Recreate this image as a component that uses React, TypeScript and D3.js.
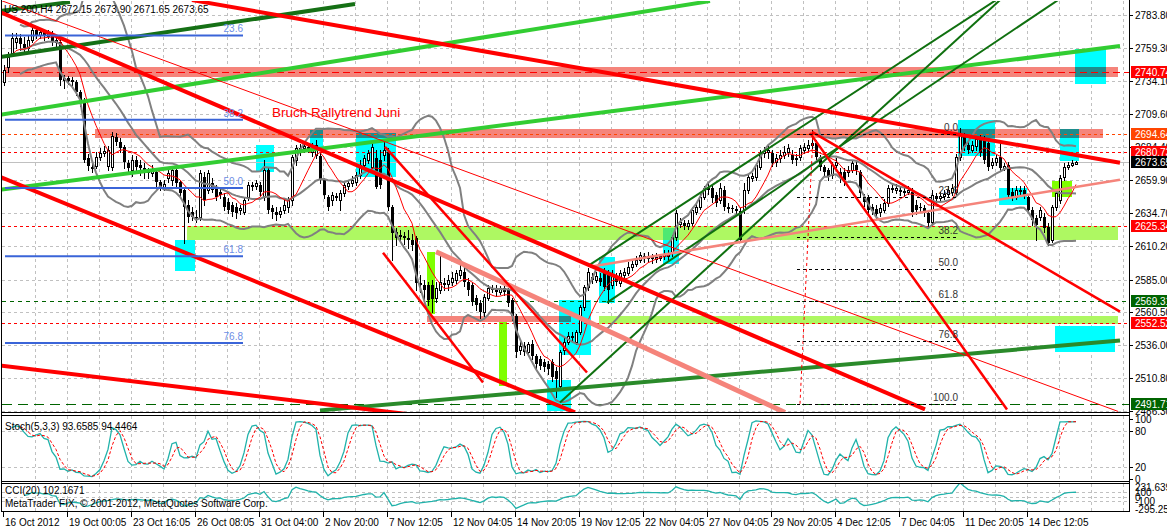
import React, { useMemo } from 'react';
import * as d3 from 'd3';

const headerText = 'US 200,H4  2672.15 2673.90 2671.65 2673.65';
const stochText = 'Stoch(5,3,3) 93.6585 94.4464';
const cciText = 'CCI(20) 102.1671';
const copyrightText = 'MetaTrader FIX, \u00a9 2001-2012, MetaQuotes Software Corp.';
const annotationText = 'Bruch Rallytrend Juni';
const annotationPos = [67, 2707.3];

const timeLabels = ['16 Oct 2012', '19 Oct 00:05', '23 Oct 16:05', '26 Oct 08:05', '31 Oct 04:00', '2 Nov 20:00', '7 Nov 12:05', '12 Nov 04:05', '14 Nov 20:05', '19 Nov 12:05', '22 Nov 04:05', '27 Nov 04:05', '29 Nov 20:05', '4 Dec 12:05', '7 Dec 04:05', '11 Dec 20:05', '14 Dec 12:05'];
const priceTicks = [2783.8, 2759.3, 2734.1, 2709.6, 2684.4, 2659.9, 2634.7, 2610.2, 2585.0, 2560.5, 2536.0, 2510.8, 2486.3];
const stochTicks = [100, 80, 20, 0];
const cciTicks = ['231.639', '100', '0', '-100', '-295.253'];

// [open, high, low, close]
const ohlc = [
[2733.5,2746.3,2731.3,2742.5],[2744.8,2756,2741,2752.3],[2755.3,2770.3,2753,2766.5],[2763.5,2770.3,2759,2766.5],
[2766.5,2769.5,2757.5,2762],[2762,2767.3,2756,2759],[2759,2768,2756.8,2765],[2765,2775.5,2763.5,2772.5],
[2772.5,2774.8,2766.5,2768.8],[2768.8,2773.3,2766.5,2771],[2771,2772.5,2765,2768],[2768,2772.5,2766.5,2770.3],
[2770.3,2771.8,2761.3,2763.5],[2763.5,2768,2759.8,2765],[2763.5,2765,2731.3,2735],[2735,2738.8,2729,2736.5],
[2736.5,2738,2732,2734.3],[2734.3,2737.3,2731.3,2735],[2733.5,2735,2723.8,2726],[2726,2727.5,2715.5,2718.5],
[2720,2721.5,2673.5,2675],[2676.5,2679.5,2667.5,2670.5],[2669,2675,2666,2669.8],[2670.5,2681,2669,2677.3],
[2677.3,2684,2675,2680.3],[2680.3,2685.5,2678,2681.8],[2670.5,2685.5,2667.5,2682.5],[2669.8,2696,2667.5,2693],
[2692.3,2695.3,2686.3,2688.5],[2688.5,2691.5,2681,2684],[2684.8,2686.3,2669,2673.5],[2672.8,2675,2666,2669],
[2667.5,2678.8,2663,2675],[2675,2678,2667.5,2669.8],[2671.3,2675,2663.8,2669],[2669,2672.8,2661.5,2666],
[2666,2669,2661.5,2665.3],[2665.3,2671.3,2663,2668.3],[2666,2669,2655.5,2658.5],[2658.5,2660,2652.5,2654.8],
[2654.8,2660,2652.5,2657],[2661.5,2667.5,2658.5,2665.3],[2660,2669.8,2656.3,2667.5],[2667.5,2670.5,2655.5,2657.8],
[2658.5,2660,2648,2650.3],[2652.5,2654,2612.8,2639.8],[2641.3,2645,2628.5,2632.3],[2636,2639.8,2630,2632.3],
[2632.3,2637.5,2628.5,2631.5],[2632.3,2667.5,2630,2665.3],[2662.3,2666,2641.3,2645],[2652.5,2667.5,2650.3,2665.3],
[2657.8,2661.5,2651,2652.5],[2654,2656.3,2645,2647.3],[2651,2654,2646.5,2648.8],[2647.3,2650.3,2637.5,2639.8],
[2643.5,2646.5,2635.3,2637.5],[2641.3,2643.5,2633,2636],[2639.8,2642.8,2631.5,2635.3],[2637.5,2641.3,2634.5,2639],
[2636,2647.3,2634.5,2645],[2647.3,2658.5,2645,2656.3],[2656.3,2658.5,2652.5,2654.8],[2655.5,2660,2653.3,2657.8],
[2656.3,2658.5,2648.8,2651],[2647.3,2675,2645,2667.5],[2667.5,2669,2635.3,2637.5],[2639,2641.3,2631.5,2636],
[2636,2639.8,2630,2633.8],[2634.5,2639.8,2632.3,2636.8],[2637.5,2645,2635.3,2641.3],[2639.8,2647.3,2636,2645],
[2645,2678.8,2641.3,2677.3],[2675,2686.3,2671.3,2684],[2682.5,2687,2678.8,2684],[2684,2688.5,2681,2685.5],
[2684.8,2687.8,2681,2683.3],[2681,2687.8,2678,2684],[2678.8,2690,2676.5,2686.3],[2678,2680.3,2657.8,2660],
[2660,2661.5,2646.5,2648.8],[2647.3,2648.8,2637.5,2639.8],[2645,2651,2641.3,2648.8],[2648,2650.3,2645,2646.5],
[2645,2652.5,2637.5,2650.3],[2650.3,2658.5,2648,2656.3],[2655.5,2660,2653.3,2657.8],[2657.8,2663,2655.5,2660],
[2658.5,2666,2656.3,2663.8],[2663.8,2675,2661.5,2671.3],[2671.3,2678.8,2669,2676.5],[2675,2682.5,2672.8,2680.3],
[2669.8,2690,2667.5,2684.8],[2676.5,2682.5,2654,2654.8],[2675,2682.5,2654,2656.3],[2678.8,2690,2675,2682.5],
[2681,2684,2637.5,2639.8],[2639.8,2641.3,2600,2620.3],[2621,2624,2611.3,2616.5],[2618.8,2622.5,2613.5,2617.3],
[2618,2621,2612,2616.5],[2616.5,2622.5,2609,2615],[2615,2619.5,2607.5,2611.3],[2616.5,2618,2577.5,2582.8],
[2582.8,2588.8,2576,2581.3],[2581.3,2585,2570,2577.5],[2581.3,2583.5,2566.3,2570],[2581.3,2585,2561,2570.8],
[2571.5,2583.5,2568.5,2579],[2577.5,2603.8,2575.3,2583.5],[2582.8,2586.5,2577.5,2581.3],[2582,2588.8,2577.5,2585],
[2583.5,2591,2581.3,2586.5],[2585,2592.5,2582.8,2590.3],[2588.8,2596.3,2586.5,2592.5],[2591,2594,2580.5,2583.5],
[2583.5,2586.5,2573.8,2577.5],[2581.3,2583.5,2566.3,2568.5],[2571.5,2573.8,2562.5,2566.3],[2567.8,2570,2556.5,2560.3],
[2561,2574.5,2558,2572.3],[2571.5,2581.3,2570,2579],[2578.3,2581.3,2576,2579],[2579,2581.3,2573,2576],
[2576,2580.5,2574.5,2579],[2579,2580.5,2573.8,2576],[2577.5,2579,2565.5,2567.8],[2570,2571.5,2555,2557.3],
[2557.3,2558.8,2526.5,2530.3],[2532.5,2540,2528.8,2534.8],[2534.8,2537.8,2528,2531],[2531,2537.8,2528,2536.3],
[2536.3,2540,2525,2527.3],[2527.3,2528.8,2517.5,2521.3],[2525,2527.3,2517.5,2519.8],[2522.8,2525,2516,2519],
[2521.3,2523.5,2513.8,2517.5],[2522.8,2525,2508.5,2511.5],[2516,2519,2496.5,2510],[2504.8,2532.5,2502.5,2530.3],
[2532.5,2541.5,2528.8,2537.8],[2538.5,2545.3,2536.3,2542.3],[2542.3,2545.3,2540,2543],[2538.5,2547.5,2536.3,2545.3],
[2545.3,2566.3,2543.8,2564.8],[2564.8,2581.3,2562.5,2579.8],[2579.8,2594,2577.5,2591],[2587.3,2590.3,2582.8,2585],
[2585,2591,2583.5,2588],[2586.5,2590.3,2581.3,2583.5],[2591,2594,2577.5,2579.8],[2588.8,2592.5,2567.8,2577.5],
[2581.3,2592.5,2579,2588.8],[2586.5,2590.3,2581.3,2583.5],[2582.8,2592.5,2580.5,2590.3],[2588.8,2594,2586.5,2591],
[2590.3,2598.5,2588.8,2594.8],[2594.8,2600,2592.5,2597],[2597,2603,2595.5,2600],[2600,2606,2598.5,2603.8],
[2603,2605.3,2598.5,2601.5],[2601.5,2606,2598.5,2603],[2602.3,2604.5,2597.8,2600.8],[2600.8,2605.3,2598.5,2602.3],
[2601.5,2604.5,2600,2603],[2603,2607.5,2600.8,2604.5],[2603,2607.5,2600,2605.3],[2605.3,2618.8,2603,2617.3],
[2617.3,2637.5,2615,2635.3],[2627,2631.5,2624.8,2628.5],[2627.8,2630,2623.3,2625.5],[2625.5,2630,2623.3,2627.8],
[2627.8,2639.8,2626.3,2637.5],[2636,2642.8,2634.5,2639.8],[2639.8,2649.5,2638.3,2647.3],[2647.3,2655.5,2645.8,2654],
[2654,2658.5,2649.5,2652.5],[2654,2656.3,2643.5,2646.5],[2648.8,2651,2640.5,2642.8],[2645,2657.8,2642.8,2654],
[2652.5,2655.5,2637.5,2639.8],[2639.8,2642.8,2636,2638.3],[2639,2641.3,2636,2638.3],[2638.3,2640.5,2633.8,2636.8],
[2636.8,2639,2613.5,2615],[2637.5,2657.8,2635.3,2652.5],[2652.5,2663.8,2650.3,2662.3],[2661.5,2665.3,2659.3,2663],
[2662.3,2672.8,2660,2671.3],[2669.8,2682.5,2668.3,2680.3],[2680.3,2684.8,2677.3,2681.8],[2681,2686.3,2676.5,2682.5],
[2680.3,2682.5,2670.5,2672.8],[2673.5,2679.5,2670.5,2676.5],[2676.5,2682.5,2673.5,2678.8],[2678.8,2685.5,2676.5,2681],
[2681,2687,2678,2684],[2678.8,2682.5,2672.8,2675],[2676.5,2679.5,2671.3,2675],[2677.3,2686.3,2675,2684],
[2682.5,2687.8,2680.3,2684.8],[2684,2690,2682.5,2686.3],[2686.3,2697.5,2684,2687.8],[2687.8,2690,2675,2677.3],
[2677.3,2678.8,2667.5,2669.8],[2669.8,2671.3,2663.8,2666],[2667.5,2669,2660,2662.3],[2663.8,2673.5,2661.5,2671.3],
[2671.3,2676.5,2669.8,2673.5],[2666,2669,2658.5,2661.5],[2666,2669,2656.3,2660],[2666,2670.5,2663,2667.5],
[2667.5,2675,2666,2672.8],[2671.3,2675,2664.5,2667.5],[2666,2667.5,2647.3,2650.3],[2647.3,2649.5,2640.5,2643.5],
[2647.3,2648.8,2634.5,2637.5],[2639.8,2642,2634.5,2636.8],[2638.3,2641.3,2631.5,2634.5],[2636,2642,2633,2639],
[2637.5,2645.8,2636,2642.8],[2642.8,2656.3,2640.5,2654],[2654,2657,2651,2652.5],[2652.5,2657,2650.3,2654],
[2652.5,2655.5,2648.8,2651],[2651.8,2654,2648,2650.3],[2651,2655.5,2649.5,2652.5],[2651,2654,2633,2636],
[2641.3,2645,2634.5,2637.5],[2639.8,2642.8,2636,2639],[2639,2641.3,2633,2635.3],[2635.3,2637.5,2625.5,2627.8],
[2628.5,2652.5,2626.3,2648.8],[2648,2650.3,2643.5,2645.8],[2646.5,2651,2644.3,2648],[2648,2652.5,2645.8,2649.5],
[2649.5,2655.5,2647.3,2652.5],[2651,2657,2648.8,2654],[2651,2679.5,2648.8,2677.3],[2677.3,2699,2675,2695.3],
[2692.3,2695.3,2682.5,2684.8],[2686.3,2690,2680.3,2682.5],[2682.5,2689.3,2681,2686.3],[2685.5,2693,2682.5,2690.8],
[2691.5,2693.8,2678,2680.3],[2690,2693,2672.8,2675],[2687.8,2690,2667.5,2669.8],[2671.3,2676.5,2669,2673.5],
[2673.5,2678.8,2671.3,2676.5],[2677.3,2687.8,2667.5,2669],[2669,2672.8,2667.5,2670.5],[2671.3,2673.5,2646.5,2648.8],
[2651,2654,2645,2647.3],[2647.3,2655.5,2645.8,2652.5],[2652.5,2655.5,2648.8,2651],[2652.5,2655.5,2646.5,2648.8],
[2647.3,2648.8,2635.3,2637.5],[2637.5,2639.8,2626.3,2630],[2631.5,2633.8,2615,2626.3],[2632.3,2639.8,2630,2637.5],
[2632.3,2635.3,2621,2624],[2624.8,2627.8,2611.3,2612.8],[2615,2641.3,2613.5,2639.8],[2639.8,2652.5,2637.5,2650.3],
[2645,2663.8,2642.8,2661.5],[2662.3,2672.8,2660,2669.8],[2669.8,2673.5,2668.3,2671.3],[2671.3,2675,2670.5,2672.8],
[2672.15,2673.9,2671.65,2673.65],
];

// horizontal levels (prices) and bid
const levelPrices = [2740.74, 2694.64, 2680.73, 2625.34, 2569.31, 2552.52, 2491.71];
const bidPrice = 2673.65;

// zones: [barFrom, barTo, priceTop, priceBottom]
const salmonZones = [[0.25, 278.5, 2744.5, 2737.3], [22.75, 274.75, 2698.2, 2691.2], [105.75, 141.75, 2558, 2553.5]];
const limeZones = [[45.75, 278.5, 2625.3, 2615], [148.75, 278.5, 2557.5, 2551.5]];
const cyanZones = [
  [267.75, 275.5, 2758.2, 2732], [42.75, 47.75, 2615, 2591.8], [63, 67.5, 2686.3, 2666], [76.5, 79.75, 2697.5, 2681.8],
  [88, 98, 2695.3, 2662.3], [135.75, 141.75, 2509.3, 2486], [138.75, 146.75, 2570, 2528], [148.75, 152.75, 2602.3, 2567.8],
  [164.75, 168.75, 2624, 2597], [238.5, 247.75, 2705, 2678], [248.75, 255.75, 2654, 2641.3], [264, 268.75, 2698.3, 2674.3],
  [262.75, 277.75, 2550.5, 2530.3],
];
const chartreuseZones = [[105.75, 107.75, 2606, 2558.8], [123.75, 125.75, 2553.5, 2504.8], [262, 267, 2659.3, 2647.3]];

// trend lines: [bar1, price1, bar2, price2]
const redThick = [[-1, 2786, 230.25, 2487.5], [47, 2795, 279, 2672.75], [-1, 2662.25, 142.75, 2485.25], [-1, 2520.5, 101.5, 2483.75]];
const redMedium = [[95.25, 2684.75, 145.75, 2515.25], [94.75, 2605.25, 119.75, 2507.75], [202, 2696, 279, 2561], [201.5, 2695.25, 250.75, 2487.5]];
const redThin = [[-1, 2795, 278.5, 2486]];
const darkGreenThick = [[-1, 2752.25, 87.75, 2792], [-1, 2786.75, 16.5, 2793.5]];
const forestGreenThick = [[79, 2486.75, 279, 2539.25]];
const limeLines = [[-1, 2652.5, 279, 2760.5], [-1, 2708.75, 176.5, 2794.25]];
const darkGreenThin = [[146.5, 2596.25, 248, 2795], [150.75, 2567.75, 263.5, 2795], [139, 2492.75, 249, 2795]];
const pinkThick = [[108, 2606, 195.25, 2485.25]];
const pinkThin = [[146.5, 2594.75, 279, 2660]];

// fibonacci
const fibLeftAnchors = [2870.9, 2436.7];
const fibLeftLevels = [23.6, 38.2, 50.0, 61.8, 76.8];
const fibLeftBars = [0.25, 59.75];
const fibRightAnchors = [2694.64, 2491.71];
const fibRightLevels = [0, 23.6, 38.2, 50.0, 61.8, 76.8, 100];
const fibRightBars = [198.25, 238.5];
const fibRightDiagonal = [199, 2491.71, 202.25, 2694.64];

const FONT = '"Liberation Sans", Arial, sans-serif';

function sma(arr: (number | null)[], i: number, n: number, minN: number) {
  const s = arr.slice(Math.max(0, i - n + 1), i + 1).filter((v) => v !== null) as number[];
  if (s.length < minN) return null;
  return d3.mean(s) as number;
}

export default function App() {
  const x = d3.scaleLinear().domain([0, 280]).range([4, 1124]);
  const y = d3.scaleLinear().domain([2486.3, 2783.8]).range([411, 15]);
  const ys = d3.scaleLinear().domain([0, 100]).range([479, 419]);
  const yc = d3.scaleLinear().domain([-295.253, 231.639]).range([509, 487]);

  const ind = useMemo(() => {
    const closes = ohlc.map((b) => b[3]);
    const bb = closes.map((_, i) => {
      const w = closes.slice(Math.max(0, i - 19), i + 1);
      if (w.length < 5) return null;
      const m = d3.mean(w) as number;
      const sd = Math.sqrt(d3.mean(w.map((v) => (v - m) * (v - m))) as number);
      return { i, m, u: m + 2 * sd, l: m - 2 * sd };
    });
    const ma = closes.map((_, i) => sma(closes, i, 8, 3));
    const num: (number | null)[] = [];
    const den: (number | null)[] = [];
    ohlc.forEach((b, i) => {
      const w = ohlc.slice(Math.max(0, i - 4), i + 1);
      const ll = d3.min(w, (d) => d[2]) as number;
      const hh = d3.max(w, (d) => d[1]) as number;
      num.push(b[3] - ll);
      den.push(hh - ll);
    });
    const k: (number | null)[] = ohlc.map((_, i) => {
      if (i < 2) return null;
      const n = (num[i] as number) + (num[i - 1] as number) + (num[i - 2] as number);
      const dd = (den[i] as number) + (den[i - 1] as number) + (den[i - 2] as number);
      return dd === 0 ? 50 : (100 * n) / dd;
    });
    const dsig = k.map((_, i) => (i < 4 ? null : sma(k, i, 3, 3)));
    const tp = ohlc.map((b) => (b[1] + b[2] + b[3]) / 3);
    const cci = tp.map((t, i) => {
      const w = tp.slice(Math.max(0, i - 19), i + 1);
      if (w.length < 6) return null;
      const m = d3.mean(w) as number;
      const md = d3.mean(w.map((v) => Math.abs(v - m))) as number;
      return md === 0 ? 0 : (t - m) / (0.015 * md);
    });
    return { bb, ma, k, dsig, cci };
  }, []);

  const lineGen = (getY: (d: any) => number) =>
    d3.line<any>().defined((d) => d !== null && d !== undefined).x((d: any) => x(d.i)).y(getY);

  const bbPts = ind.bb;
  const upper = lineGen((d) => y(d.u))(bbPts as any) || '';
  const mid = lineGen((d) => y(d.m))(bbPts as any) || '';
  const lower = lineGen((d) => y(d.l))(bbPts as any) || '';
  const maPath = lineGen((d) => y(d.v))(ind.ma.map((v, i) => (v === null ? null : { i, v })) as any) || '';
  const kPath = lineGen((d) => ys(d.v))(ind.k.map((v, i) => (v === null ? null : { i, v })) as any) || '';
  const dPath = lineGen((d) => ys(d.v))(ind.dsig.map((v, i) => (v === null ? null : { i, v })) as any) || '';
  const cciPath = lineGen((d) => yc(d.v))(ind.cci.map((v, i) => (v === null ? null : { i, v })) as any) || '';

  const zoneRect = (z: number[], fill: string, key: string) => (
    <rect key={key} x={x(z[0])} y={y(z[2])} width={x(z[1]) - x(z[0])} height={y(z[3]) - y(z[2])} fill={fill} />
  );
  const intersect = (a: number[], b: number[]) => {
    const b1 = Math.max(a[0], b[0]), b2 = Math.min(a[1], b[1]);
    const pt = Math.min(a[2], b[2]), pb = Math.max(a[3], b[3]);
    return b1 < b2 && pt > pb ? [b1, b2, pt, pb] : null;
  };
  const tl = (arr: number[][], color: string, w: number, key: string, dash?: string) =>
    arr.map((t, i) => (
      <line key={key + i} x1={x(t[0])} y1={y(t[1])} x2={x(t[2])} y2={y(t[3])} stroke={color} strokeWidth={w} strokeDasharray={dash} />
    ));

  const gridXs = d3.range(1, 36).map((k) => x(8 * k) - 1);
  const levelColors = ['#FF0000', '#FF4500', '#FF0000', '#FF0000', '#006400', '#FF0000', '#006400'];
  const levelDash = ['7,4', '3,3', '3,3', '3,3', '4,4', '3,3', '10,6'];
  const fibL = (a: number[], lv: number) => a[0] + ((a[1] - a[0]) * lv) / 100;

  const plotR = 1129;

  return (
    <svg width={1167} height={528} style={{ position: 'absolute', left: 0, top: 0, background: '#fff' }} fontFamily={FONT}>
      <defs>
        <clipPath id="mainClip"><rect x={2} y={1} width={plotR - 2} height={411} /></clipPath>
        <clipPath id="stochClip"><rect x={2} y={416} width={plotR - 2} height={65} /></clipPath>
        <clipPath id="cciClip"><rect x={2} y={484} width={plotR - 2} height={27} /></clipPath>
      </defs>
      <rect x={0} y={0} width={1167} height={528} fill="#fff" />

      {/* grids */}
      <g stroke="#C0C0C0" strokeDasharray="3,3" shapeRendering="crispEdges">
        {gridXs.map((gx, i) => (
          <g key={'gx' + i}>
            <line x1={Math.round(gx) + 0.5} x2={Math.round(gx) + 0.5} y1={1} y2={412} />
            <line x1={Math.round(gx) + 0.5} x2={Math.round(gx) + 0.5} y1={416} y2={481} />
            <line x1={Math.round(gx) + 0.5} x2={Math.round(gx) + 0.5} y1={484} y2={511} />
          </g>
        ))}
        {priceTicks.map((p, i) => (
          <line key={'gy' + i} x1={2} x2={plotR} y1={Math.round(y(p)) + 0.5} y2={Math.round(y(p)) + 0.5} />
        ))}
        {[80, 20].map((v) => (
          <line key={'gs' + v} x1={2} x2={plotR} y1={Math.round(ys(v)) + 0.5} y2={Math.round(ys(v)) + 0.5} />
        ))}
        {[100, 0, -100].map((v) => (
          <line key={'gc' + v} x1={2} x2={plotR} y1={Math.round(yc(v)) + 0.5} y2={Math.round(yc(v)) + 0.5} />
        ))}
      </g>

      <g clipPath="url(#mainClip)">
        {/* zones */}
        <g shapeRendering="crispEdges">
          {salmonZones.map((z, i) => zoneRect(z, '#F5847B', 's' + i))}
          {limeZones.map((z, i) => zoneRect(z, '#AEF862', 'l' + i))}
          {cyanZones.map((z, i) => zoneRect(z, '#00FFFF', 'c' + i))}
          {cyanZones.flatMap((c, i) => salmonZones.map((s, j) => {
            const r = intersect(c, s);
            return r ? zoneRect(r, '#1E8C8C', 'cs' + i + '_' + j) : null;
          }))}
          {cyanZones.flatMap((c, i) => limeZones.map((s, j) => {
            const r = intersect(c, s);
            return r ? zoneRect(r, '#4EE872', 'cl' + i + '_' + j) : null;
          }))}
          {chartreuseZones.map((z, i) => zoneRect(z, '#7FFF00', 'g' + i))}
        </g>

        {/* horizontal levels */}
        <g shapeRendering="crispEdges">
          {levelPrices.map((p, i) => (
            <line key={'lv' + i} x1={2} x2={plotR} y1={Math.round(y(p)) + 0.5} y2={Math.round(y(p)) + 0.5}
              stroke={levelColors[i]} strokeDasharray={levelDash[i]} />
          ))}
          <line x1={2} x2={plotR} y1={Math.round(y(bidPrice)) + 0.5} y2={Math.round(y(bidPrice)) + 0.5} stroke="#C0C0C0" />
        </g>

        {/* candles */}
        <g shapeRendering="crispEdges">
          {ohlc.map(([o, h, l, c], i) => {
            const cx = Math.round(x(i));
            const top = Math.round(y(Math.max(o, c)));
            const bot = Math.round(y(Math.min(o, c)));
            const bull = c >= o;
            return (
              <g key={'k' + i}>
                <line x1={cx + 0.5} x2={cx + 0.5} y1={Math.round(y(h))} y2={Math.round(y(l)) + 1} stroke="#000" />
                {bull ? (
                  <rect x={cx - 0.5} y={top + 0.5} width={2} height={Math.max(bot - top, 1)} fill="#fff" stroke="#000" />
                ) : (
                  <rect x={cx - 1} y={top} width={3} height={Math.max(bot - top, 1)} fill="#000" />
                )}
              </g>
            );
          })}
        </g>

        {/* indicators */}
        <g fill="none">
          <path d={upper} stroke="#808080" strokeWidth={2} />
          <path d={mid} stroke="#808080" strokeWidth={2} />
          <path d={lower} stroke="#808080" strokeWidth={2} />
          <path d={maPath} stroke="#FF0000" strokeWidth={1} />
        </g>

        {/* trend lines */}
        {tl(limeLines, '#32CD32', 4, 'lime')}
        {tl(darkGreenThick, '#157015', 4, 'dgt')}
        {tl(forestGreenThick, '#2A8A2A', 4, 'fgt')}
        {tl(darkGreenThin, '#0F700F', 2, 'dgn')}
        {tl(pinkThick, '#F5847B', 5, 'pk')}
        {tl(pinkThin, '#F5847B', 2.5, 'pkt')}
        {tl(redThin, '#FF0000', 1, 'rt')}
        {tl(redMedium, '#FF0000', 2.5, 'rm')}
        {tl(redThick, '#FF0000', 4, 'rth')}

        {/* fibonacci left */}
        {fibLeftLevels.map((lv, i) => {
          const p = fibL(fibLeftAnchors, lv);
          return (
            <g key={'fl' + i}>
              <line x1={x(fibLeftBars[0])} x2={x(fibLeftBars[1])} y1={y(p)} y2={y(p)} stroke="#3A64D8" strokeWidth={2} />
              <text x={x(fibLeftBars[1])} y={y(p) - 3} textAnchor="end" fontSize={10} fill="#6D8EE6">{lv.toFixed(1)}</text>
            </g>
          );
        })}
        {/* fibonacci right */}
        <line x1={x(fibRightDiagonal[0])} y1={y(fibRightDiagonal[1])} x2={x(fibRightDiagonal[2])} y2={y(fibRightDiagonal[3])}
          stroke="#FF0000" strokeDasharray="3,3" />
        {fibRightLevels.map((lv, i) => {
          const p = fibL(fibRightAnchors, lv);
          return (
            <g key={'fr' + i}>
              <line x1={x(fibRightBars[0])} x2={x(fibRightBars[1])} y1={Math.round(y(p)) + 0.5} y2={Math.round(y(p)) + 0.5}
                stroke="#000" strokeDasharray="3,3" shapeRendering="crispEdges" />
              <text x={x(fibRightBars[1])} y={y(p) - 3} textAnchor="end" fontSize={10} fill="#333">{lv.toFixed(1)}</text>
            </g>
          );
        })}

        <text x={x(annotationPos[0])} y={y(annotationPos[1])} fontSize={13.5} fill="#FF0000">{annotationText}</text>
      </g>

      <text x={4} y={13} fontSize={10} fill="#000">{headerText}</text>

      {/* stochastic */}
      <g clipPath="url(#stochClip)" fill="none">
        <path d={kPath} stroke="#20B2AA" strokeWidth={1.3} />
        <path d={dPath} stroke="#FF0000" strokeWidth={1} strokeDasharray="3,2" />
      </g>
      <text x={5} y={430} fontSize={10} fill="#000">{stochText}</text>

      {/* cci */}
      <g clipPath="url(#cciClip)" fill="none">
        <path d={cciPath} stroke="#20B2AA" strokeWidth={1.3} />
      </g>
      <text x={5} y={494} fontSize={10} fill="#000">{cciText}</text>
      <text x={5} y={507} fontSize={10} fill="#000">{copyrightText}</text>

      {/* frames */}
      <g stroke="#000" shapeRendering="crispEdges" fill="none">
        <line x1={plotR + 0.5} x2={plotR + 0.5} y1={0} y2={512} />
        <line x1={1.5} x2={1.5} y1={0} y2={512} />
        <line x1={1} x2={plotR} y1={412.5} y2={412.5} />
        <line x1={1} x2={plotR} y1={415.5} y2={415.5} />
        <line x1={1} x2={plotR} y1={481.5} y2={481.5} />
        <line x1={1} x2={plotR} y1={483.5} y2={483.5} />
        <line x1={1} x2={plotR} y1={511.5} y2={511.5} />
      </g>

      {/* price axis */}
      <g fontSize={10} fill="#000">
        {priceTicks.map((p, i) => (
          <g key={'pt' + i}>
            <line x1={plotR} x2={plotR + 4} y1={Math.round(y(p)) + 0.5} y2={Math.round(y(p)) + 0.5} stroke="#000" shapeRendering="crispEdges" />
            <text x={plotR + 6} y={y(p) + 4}>{p.toFixed(2)}</text>
          </g>
        ))}
        {levelPrices.map((p, i) => (
          <g key={'lb' + i}>
            <rect x={plotR + 2} y={Math.round(y(p)) - 6} width={40} height={12} fill={levelColors[i]} />
            <text x={plotR + 6} y={y(p) + 4} fill="#fff">{p.toFixed(2)}</text>
          </g>
        ))}
        <rect x={plotR + 2} y={Math.round(y(bidPrice)) - 6} width={40} height={12} fill="#000" />
        <text x={plotR + 6} y={y(bidPrice) + 4} fill="#fff">{bidPrice.toFixed(2)}</text>

        {stochTicks.map((v) => (
          <g key={'st' + v}>
            <line x1={plotR} x2={plotR + 4} y1={Math.round(ys(v)) + 0.5} y2={Math.round(ys(v)) + 0.5} stroke="#000" shapeRendering="crispEdges" />
            <text x={plotR + 6} y={ys(v) + 4}>{v}</text>
          </g>
        ))}
        {cciTicks.map((v) => (
          <text key={'ct' + v} x={plotR + 6} y={yc(+v) + 4}>{v}</text>
        ))}
      </g>

      {/* time axis */}
      <g fontSize={10} fill="#000">
        {timeLabels.map((t, k) => {
          const tx = Math.round(x(16 * k)) - 1;
          return (
            <g key={'t' + k}>
              <line x1={tx + 0.5} x2={tx + 0.5} y1={512} y2={517} stroke="#000" shapeRendering="crispEdges" />
              <text x={tx + 2} y={526}>{t}</text>
            </g>
          );
        })}
      </g>
    </svg>
  );
}
